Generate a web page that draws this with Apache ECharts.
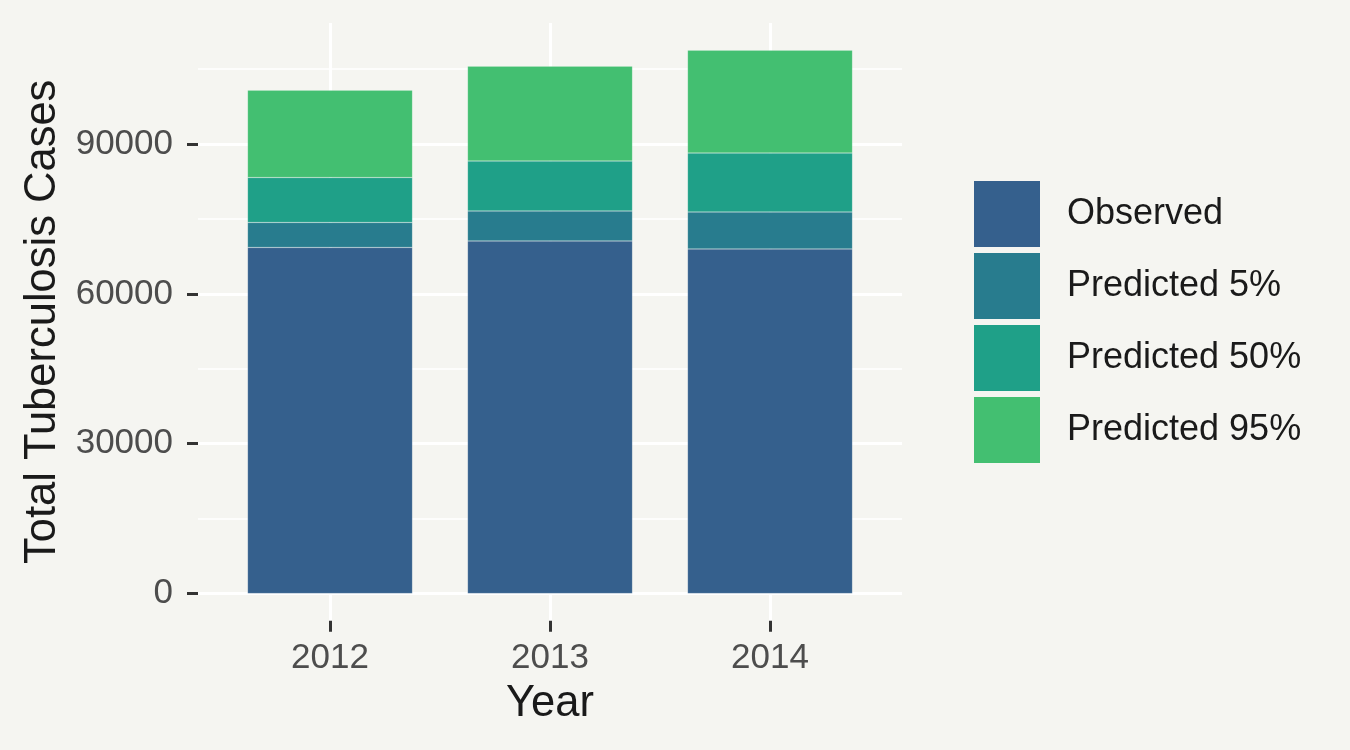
<!DOCTYPE html>
<html>
<head>
<meta charset="utf-8">
<script src="https://cdn.jsdelivr.net/npm/echarts@6/dist/echarts.min.js"></script>
<style>
  html, body { margin: 0; padding: 0; background: #F5F5F1; }
  #chart { width: 1350px; height: 750px; }
</style>
</head>
<body>
<div id="chart"></div>
<script>
// ---- data ----
const years = ['2012', '2013', '2014'];
const seriesNames = ['Observed', 'Predicted 5%', 'Predicted 50%', 'Predicted 95%'];
// stacked segment heights
const observed = [69300, 70600, 69000];
const predicted5 = [5000, 6000, 7400];
const predicted50 = [9000, 10000, 11800];
const predicted95 = [17500, 19000, 20600];
const yMajorTicks = [0, 30000, 60000, 90000];
const yMinorTicks = [15000, 45000, 75000, 105000];

const colors = ['#35608D', '#287C8E', '#1FA088', '#43BF71'];
const FONT = '"Liberation Sans", Arial, sans-serif';
const yMin = -5440, yMax = 114240;
const xPositions = years.map((_, i) => i + 1);

const valuesBySeries = [observed, predicted5, predicted50, predicted95];

const chart = echarts.init(document.getElementById('chart'), null, { renderer: 'canvas' });

const series = seriesNames.map((name, s) => ({
  name: name,
  type: 'bar',
  stack: 'total',
  barWidth: 165,
  xAxisIndex: 0,
  yAxisIndex: 0,
  itemStyle: { color: colors[s], borderColor: 'rgba(255,255,255,0.25)', borderWidth: 0.6 },
  emphasis: { disabled: true },
  data: valuesBySeries[s]
}));

const TOP = 23, BOTTOM = 129.3;

chart.setOption({
  backgroundColor: '#F5F5F1',
  animation: false,
  textStyle: { fontFamily: FONT },
  grid: [
    { left: 220, right: 470, top: TOP, bottom: BOTTOM, containLabel: false },
    { left: 198, right: 448, top: TOP, bottom: BOTTOM, containLabel: false }
  ],
  xAxis: [{
    gridIndex: 0,
    type: 'category',
    data: years,
    show: false
  }, {
    gridIndex: 1,
    type: 'value',
    min: 0.4,
    max: 3.6,
    name: 'Year',
    nameLocation: 'middle',
    nameGap: 61,
    nameTextStyle: { fontSize: 43.5, color: '#1A1A1A', fontFamily: FONT },
    axisLine: { show: false, onZero: false },
    axisTick: { show: true, length: 11, customValues: xPositions, lineStyle: { color: '#333333', width: 3 } },
    axisLabel: {
      show: true, customValues: xPositions, margin: 20,
      fontSize: 35, color: '#4D4D4D', fontFamily: FONT,
      formatter: v => years[Math.round(v) - 1]
    },
    splitLine: { show: true, lineStyle: { color: '#FFFFFF', width: 3 } }
  }],
  yAxis: [{
    gridIndex: 0,
    type: 'value',
    min: yMin,
    max: yMax,
    show: false
  }, {
    gridIndex: 1,
    type: 'value',
    min: yMin,
    max: yMax,
    position: 'left',
    name: 'Total Tuberculosis Cases',
    nameLocation: 'middle',
    nameGap: 131,
    nameTextStyle: { fontSize: 43.5, color: '#1A1A1A', fontFamily: FONT },
    axisLine: { show: false, onZero: false },
    axisTick: { show: true, length: 11, customValues: yMajorTicks, lineStyle: { color: '#333333', width: 3 } },
    axisLabel: {
      show: true, customValues: yMajorTicks, margin: 25, fontSize: 35, color: '#4D4D4D', fontFamily: FONT,
      formatter: v => String(v)
    },
    splitLine: { show: true, lineStyle: { color: '#FFFFFF', width: 3 } }
  }, {
    gridIndex: 1,
    type: 'value',
    min: yMin,
    max: yMax,
    position: 'left',
    axisLine: { show: false, onZero: false },
    axisTick: { show: false, customValues: yMinorTicks },
    axisLabel: { show: false, customValues: yMinorTicks },
    splitLine: { show: true, lineStyle: { color: '#FFFFFF', width: 1.5 } }
  }],
  legend: {
    orient: 'vertical',
    left: 974,
    top: 181,
    padding: 0,
    itemWidth: 66,
    itemHeight: 66,
    itemGap: 6,
    icon: 'rect',
    selectedMode: false,
    itemStyle: { borderWidth: 0 },
    textStyle: { fontSize: 36, color: '#1A1A1A', fontFamily: FONT, padding: [0, 0, 0, 22] },
    data: seriesNames
  },
  series: series
});
</script>
</body>
</html>
